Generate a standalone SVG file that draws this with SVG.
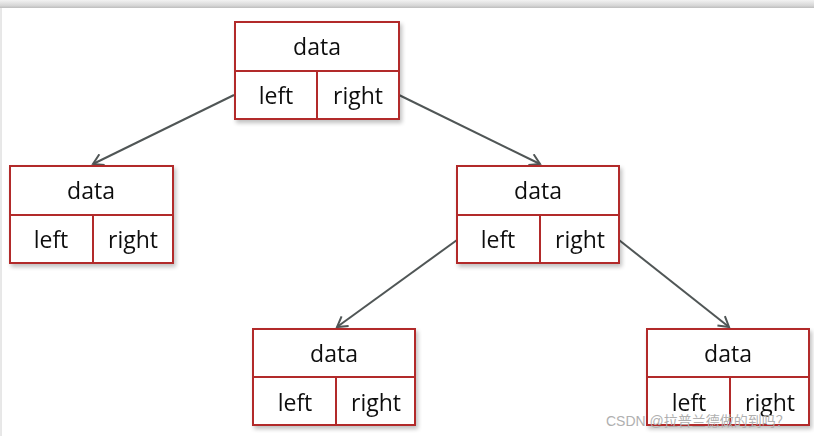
<svg xmlns="http://www.w3.org/2000/svg" width="814" height="436" viewBox="0 0 814 436">
<defs>
<linearGradient id="topbar" x1="0" y1="0" x2="0" y2="1">
<stop offset="0" stop-color="#f2f2f2"/>
<stop offset="0.7" stop-color="#d6d6d6"/>
<stop offset="1" stop-color="#bdbdbd"/>
</linearGradient>
<filter id="sh" x="-10%" y="-10%" width="125%" height="130%">
<feGaussianBlur in="SourceAlpha" stdDeviation="2"/>
<feOffset dx="2" dy="3"/>
<feComponentTransfer><feFuncA type="linear" slope="0.25"/></feComponentTransfer>
<feMerge><feMergeNode/><feMergeNode in="SourceGraphic"/></feMerge>
</filter>
<marker id="arr" markerWidth="14" markerHeight="14" refX="11" refY="7" orient="auto" markerUnits="userSpaceOnUse">
<path d="M1,1 L11,7 L1,13" fill="none" stroke="#505656" stroke-width="2"/>
</marker>
</defs>
<style>
.box{fill:#ffffff;stroke:#b22a2a;stroke-width:2}
.ln{stroke:#b22a2a;stroke-width:2}
.t{font-family:"Open Sans","Liberation Sans",sans-serif;font-size:23px;fill:#111;text-anchor:middle}
.c{stroke:#505656;stroke-width:2;fill:none}
</style>
<rect x="0" y="0" width="814" height="436" fill="#ffffff"/>
<rect x="0" y="0" width="814" height="8" fill="url(#topbar)"/>
<line x1="1" y1="8" x2="1" y2="436" stroke="#d0d0d0" stroke-width="1"/>
<g id="connectors">
<line class="c" x1="234" y1="95" x2="93" y2="164" marker-end="url(#arr)"/>
<line class="c" x1="399" y1="95" x2="540" y2="164" marker-end="url(#arr)"/>
<line class="c" x1="457" y1="240" x2="337" y2="327" marker-end="url(#arr)"/>
<line class="c" x1="619" y1="240" x2="729" y2="327" marker-end="url(#arr)"/>
</g>
<g id="node-root" filter="url(#sh)">
<rect class="box" x="235" y="22" width="164" height="97"/>
<line class="ln" x1="235" y1="71" x2="399" y2="71"/>
<line class="ln" x1="317" y1="71" x2="317" y2="119"/>
<text class="t" x="317" y="55">data</text>
<text class="t" x="276" y="104">left</text>
<text class="t" x="358" y="104">right</text>
</g>
<g id="node-left" filter="url(#sh)">
<rect class="box" x="10" y="166" width="163" height="97"/>
<line class="ln" x1="10" y1="215" x2="173" y2="215"/>
<line class="ln" x1="93" y1="215" x2="93" y2="263"/>
<text class="t" x="91" y="199">data</text>
<text class="t" x="51" y="248">left</text>
<text class="t" x="133" y="248">right</text>
</g>
<g id="node-right" filter="url(#sh)">
<rect class="box" x="457" y="166" width="162" height="97"/>
<line class="ln" x1="457" y1="215" x2="619" y2="215"/>
<line class="ln" x1="540" y1="215" x2="540" y2="263"/>
<text class="t" x="538" y="199">data</text>
<text class="t" x="498" y="248">left</text>
<text class="t" x="580" y="248">right</text>
</g>
<g id="node-rl" filter="url(#sh)">
<rect class="box" x="253" y="329" width="162" height="96"/>
<line class="ln" x1="253" y1="377" x2="415" y2="377"/>
<line class="ln" x1="336" y1="377" x2="336" y2="425"/>
<text class="t" x="334" y="362">data</text>
<text class="t" x="295" y="411">left</text>
<text class="t" x="376" y="411">right</text>
</g>
<g id="node-rr" filter="url(#sh)">
<rect class="box" x="647" y="329" width="162" height="96"/>
<line class="ln" x1="647" y1="377" x2="809" y2="377"/>
<line class="ln" x1="730" y1="377" x2="730" y2="425"/>
<text class="t" x="728" y="362">data</text>
<text class="t" x="689" y="411">left</text>
<text class="t" x="770" y="411">right</text>
</g>
<text x="606" y="426" font-family="'Liberation Sans','Noto Sans CJK SC',sans-serif" font-size="14" fill="#b0b0b0">CSDN @拉普兰德做的到吗？</text>
</svg>
